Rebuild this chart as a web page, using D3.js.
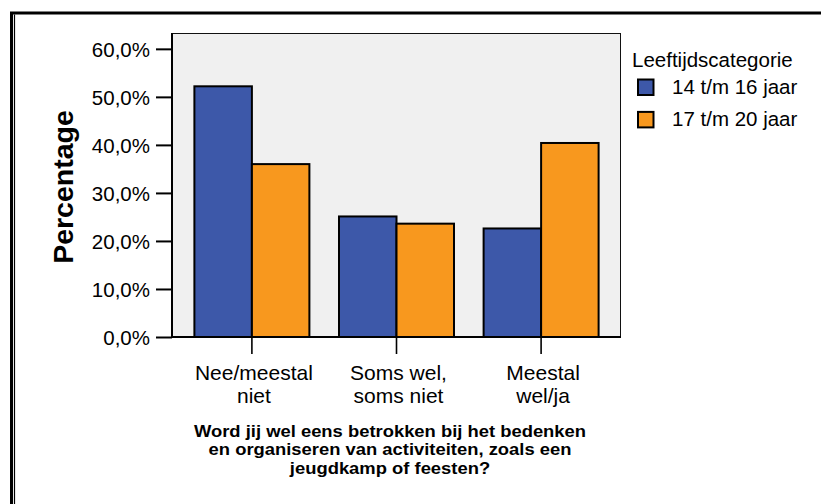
<!DOCTYPE html>
<html><head><meta charset="utf-8">
<script src="https://cdn.jsdelivr.net/npm/d3@7"></script>
<style>
html,body{margin:0;padding:0;background:#fff;}
svg{display:block;font-family:"Liberation Sans",Arial,Helvetica,sans-serif;}
</style></head>
<body>
<svg id="chart" width="821" height="504"></svg>
<script>
const categories = [["Nee/meestal","niet"],["Soms wel,","soms niet"],["Meestal","wel/ja"]];
const categoryKeys = ["Nee/meestal niet","Soms wel, soms niet","Meestal wel/ja"];
const seriesNames = ["14 t/m 16 jaar","17 t/m 20 jaar"];
const series1 = [52.2, 25.1, 22.6];
const series2 = [36.0, 23.6, 40.4];
const yTicks = [0,10,20,30,40,50,60];
const colors = ["#3d58a9","#f8981e"];
const legendTitle = "Leeftijdscategorie";
const yTitle = "Percentage";
const xTitle = ["Word jij wel eens betrokken bij het bedenken","en organiseren van activiteiten, zoals een","jeugdkamp of feesten?"];

const svg = d3.select("#chart");
const L = 172, R = 621, T = 33, B = 337;

// frame
svg.append("rect").attr("x",11.5).attr("y",13).attr("width",830).attr("height",520)
  .attr("fill","none").attr("stroke","#000").attr("stroke-width",3);
svg.append("line").attr("x1",14.5).attr("x2",14.5).attr("y1",14.5).attr("y2",504)
  .attr("stroke","#000").attr("stroke-width",1.2);

const x = d3.scaleBand().domain(categoryKeys).range([L,R]).paddingInner(0).paddingOuter(0.0525);
const y = d3.scaleLinear().domain([0,63.3]).range([B,T]);
const barW = 57.5;
const xs = d3.scaleBand().domain(seriesNames).range([-barW, barW]);

// plot background
svg.append("rect").attr("x",L).attr("y",T).attr("width",R-L).attr("height",B-T)
  .attr("fill","#f0f0f0");
svg.append("line").attr("x1",L).attr("x2",R).attr("y1",T+0.5).attr("y2",T+0.5).attr("stroke","#111").attr("stroke-width",1);
svg.append("line").attr("x1",R-0.5).attr("x2",R-0.5).attr("y1",T).attr("y2",B).attr("stroke","#111").attr("stroke-width",1);

// bars
const data = [];
categoryKeys.forEach((c,i)=>{
  data.push({c, s:seriesNames[0], v:series1[i], col:colors[0]});
  data.push({c, s:seriesNames[1], v:series2[i], col:colors[1]});
});
svg.append("g").selectAll("rect").data(data).join("rect")
  .attr("x", d => x(d.c) + x.bandwidth()/2 + xs(d.s))
  .attr("y", d => y(d.v))
  .attr("width", xs.bandwidth())
  .attr("height", d => B - y(d.v))
  .attr("fill", d => d.col)
  .attr("stroke","#000").attr("stroke-width",2);

// y axis
const yAxis = d3.axisLeft(y).tickValues(yTicks).tickSize(16).tickPadding(6)
  .tickFormat(d => d.toFixed(1).replace(".",",") + "%");
const gy = svg.append("g").attr("transform",`translate(${L},0)`).call(yAxis);
gy.select(".domain").remove();
gy.selectAll(".tick line").attr("stroke","#000").attr("stroke-width",2);
gy.selectAll(".tick text").attr("font-size",20.5).attr("fill","#000").attr("dy","0.36em")
  .style("font-family","'Liberation Sans',Arial,sans-serif");
svg.append("line").attr("x1",L).attr("x2",L).attr("y1",T).attr("y2",B+1).attr("stroke","#000").attr("stroke-width",2);
svg.append("line").attr("x1",L).attr("x2",R).attr("y1",B).attr("y2",B).attr("stroke","#000").attr("stroke-width",2);

// x axis ticks & labels
const xAxis = d3.axisBottom(x).tickSize(17).tickFormat("");
const gx = svg.append("g").attr("transform",`translate(0,${B})`).call(xAxis);
gx.select(".domain").remove();
gx.selectAll(".tick line").attr("stroke","#000").attr("stroke-width",1.6);
const lab = svg.append("g");
categoryKeys.forEach((c,i)=>{
  const t = lab.append("text").attr("text-anchor","middle").attr("font-size",21).attr("fill","#000");
  categories[i].forEach((ln,j)=>{
    t.append("tspan").attr("x", x(c)+x.bandwidth()/2 + 2).attr("y", 379.5 + j*23).text(ln);
  });
});

// x title (glyphs slightly widened as in the reference)
const xtg = svg.append("g").attr("transform","translate(390,0) scale(1.115,1)");
xTitle.forEach((ln,j)=>{
  xtg.append("text").attr("text-anchor","middle").attr("font-size",16.5).attr("font-weight","bold")
    .attr("fill","#000").attr("x",0).attr("y",437 + j*18.4).text(ln);
});

// y title
svg.append("text").attr("transform","translate(73,187) rotate(-90)")
  .attr("text-anchor","middle").attr("font-size",28.5).attr("font-weight","bold").attr("fill","#000").text(yTitle);

// legend
svg.append("text").attr("x",632).attr("y",67.3).attr("font-size",20.5).attr("fill","#000").text(legendTitle);
const lg = svg.append("g").selectAll("g").data(seriesNames).join("g")
  .attr("transform",(d,i)=>`translate(638,${79.5 + i*32.4})`);
lg.append("rect").attr("width",15.5).attr("height",15.5).attr("fill",(d,i)=>colors[i]).attr("stroke","#000").attr("stroke-width",2);
lg.append("text").attr("x",34).attr("y",14).attr("font-size",20.5).attr("fill","#000").text(d=>d);
</script>
</body></html>
